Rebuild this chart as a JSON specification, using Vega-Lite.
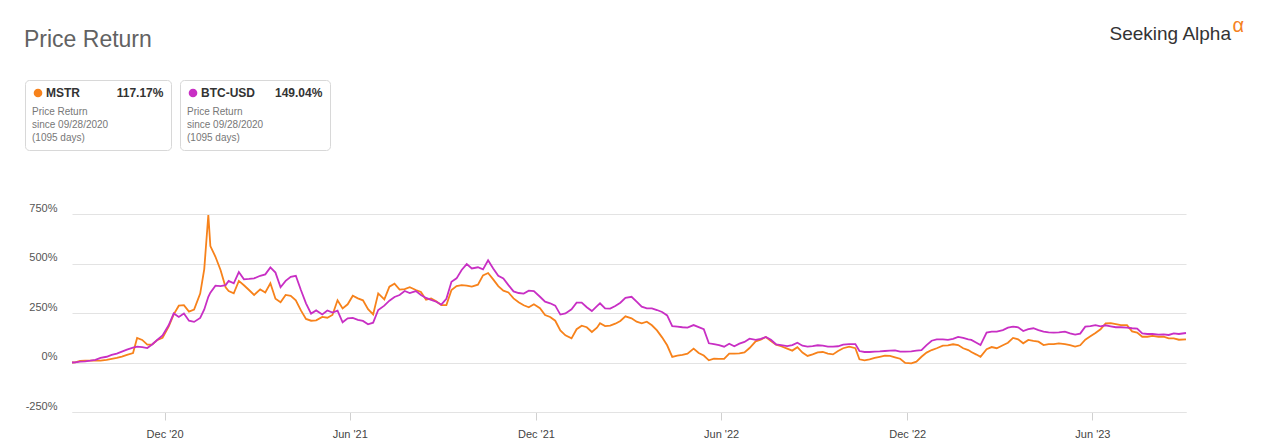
{
  "$schema": "https://vega.github.io/schema/vega-lite/v6.json",
  "autosize": {"type": "none"},
  "padding": {"left": 72, "top": 214, "right": 94, "bottom": 31},
  "width": 1114,
  "height": 198,
  "background": "#ffffff",
  "title": {
    "text": "Price Return",
    "anchor": "start",
    "frame": "group",
    "fontSize": 23,
    "fontWeight": "normal",
    "color": "#626262",
    "font": "Liberation Sans",
    "offset": 0,
    "dx": -48,
    "dy": 37
  },
  "config": {
    "view": {"stroke": null},
    "font": "Liberation Sans",
    "legend": {
      "fillColor": "#ffffff",
      "strokeColor": "#d8d8d8",
      "cornerRadius": 4,
      "padding": 7,
      "labelFont": "Liberation Sans",
      "labelFontSize": 12,
      "labelFontWeight": "bold",
      "labelColor": "#333333",
      "labelOffset": 2,
      "labelLimit": 300,
      "titleFont": "Liberation Sans",
      "titleFontSize": 10,
      "titleFontWeight": "normal",
      "titleColor": "#777777",
      "titleLineHeight": 13,
      "titlePadding": 8,
      "titleOrient": "bottom",
      "titleAnchor": "start",
      "titleAlign": "left",
      "titleLimit": 300,
      "symbolType": "circle",
      "symbolSize": 75,
      "symbolStrokeWidth": 0
    }
  },
  "data": {
    "values": [
      {"date": "2020-09-28", "MSTR": 0, "BTC": 0},
      {"date": "2020-10-01", "MSTR": 1, "BTC": 1},
      {"date": "2020-10-06", "MSTR": 8, "BTC": 4},
      {"date": "2020-10-11", "MSTR": 9, "BTC": 6},
      {"date": "2020-10-16", "MSTR": 9, "BTC": 9},
      {"date": "2020-10-21", "MSTR": 9, "BTC": 13},
      {"date": "2020-10-26", "MSTR": 9, "BTC": 23},
      {"date": "2020-11-01", "MSTR": 13, "BTC": 29},
      {"date": "2020-11-06", "MSTR": 18, "BTC": 38},
      {"date": "2020-11-11", "MSTR": 23, "BTC": 45},
      {"date": "2020-11-16", "MSTR": 30, "BTC": 55},
      {"date": "2020-11-21", "MSTR": 38, "BTC": 65},
      {"date": "2020-11-27", "MSTR": 48, "BTC": 75},
      {"date": "2020-12-01", "MSTR": 124, "BTC": 80},
      {"date": "2020-12-06", "MSTR": 114, "BTC": 78},
      {"date": "2020-12-11", "MSTR": 90, "BTC": 73},
      {"date": "2020-12-16", "MSTR": 92, "BTC": 92},
      {"date": "2020-12-21", "MSTR": 114, "BTC": 115},
      {"date": "2020-12-26", "MSTR": 125, "BTC": 137},
      {"date": "2021-01-01", "MSTR": 181, "BTC": 188},
      {"date": "2021-01-06", "MSTR": 243, "BTC": 248},
      {"date": "2021-01-11", "MSTR": 287, "BTC": 230},
      {"date": "2021-01-16", "MSTR": 290, "BTC": 247},
      {"date": "2021-01-21", "MSTR": 257, "BTC": 211},
      {"date": "2021-01-26", "MSTR": 267, "BTC": 205},
      {"date": "2021-02-01", "MSTR": 348, "BTC": 225},
      {"date": "2021-02-05", "MSTR": 472, "BTC": 268},
      {"date": "2021-02-09", "MSTR": 745, "BTC": 332},
      {"date": "2021-02-11", "MSTR": 588, "BTC": 353},
      {"date": "2021-02-16", "MSTR": 534, "BTC": 388},
      {"date": "2021-02-21", "MSTR": 467, "BTC": 386},
      {"date": "2021-02-26", "MSTR": 380, "BTC": 391},
      {"date": "2021-03-01", "MSTR": 361, "BTC": 412},
      {"date": "2021-03-06", "MSTR": 349, "BTC": 400},
      {"date": "2021-03-11", "MSTR": 412, "BTC": 457},
      {"date": "2021-03-16", "MSTR": 390, "BTC": 420},
      {"date": "2021-03-21", "MSTR": 366, "BTC": 422},
      {"date": "2021-03-26", "MSTR": 341, "BTC": 425},
      {"date": "2021-04-01", "MSTR": 369, "BTC": 438},
      {"date": "2021-04-06", "MSTR": 354, "BTC": 445},
      {"date": "2021-04-11", "MSTR": 400, "BTC": 480},
      {"date": "2021-04-16", "MSTR": 322, "BTC": 454},
      {"date": "2021-04-21", "MSTR": 304, "BTC": 380},
      {"date": "2021-04-26", "MSTR": 341, "BTC": 412},
      {"date": "2021-05-01", "MSTR": 337, "BTC": 433},
      {"date": "2021-05-06", "MSTR": 314, "BTC": 438},
      {"date": "2021-05-11", "MSTR": 263, "BTC": 366},
      {"date": "2021-05-16", "MSTR": 220, "BTC": 299},
      {"date": "2021-05-21", "MSTR": 211, "BTC": 247},
      {"date": "2021-05-26", "MSTR": 213, "BTC": 263},
      {"date": "2021-06-01", "MSTR": 230, "BTC": 243},
      {"date": "2021-06-06", "MSTR": 226, "BTC": 263},
      {"date": "2021-06-11", "MSTR": 240, "BTC": 252},
      {"date": "2021-06-16", "MSTR": 314, "BTC": 262},
      {"date": "2021-06-21", "MSTR": 273, "BTC": 203},
      {"date": "2021-06-26", "MSTR": 294, "BTC": 223},
      {"date": "2021-07-01", "MSTR": 337, "BTC": 225},
      {"date": "2021-07-06", "MSTR": 324, "BTC": 215},
      {"date": "2021-07-11", "MSTR": 314, "BTC": 210},
      {"date": "2021-07-16", "MSTR": 269, "BTC": 193},
      {"date": "2021-07-21", "MSTR": 243, "BTC": 201},
      {"date": "2021-07-26", "MSTR": 349, "BTC": 265},
      {"date": "2021-08-01", "MSTR": 319, "BTC": 287},
      {"date": "2021-08-06", "MSTR": 383, "BTC": 312},
      {"date": "2021-08-11", "MSTR": 398, "BTC": 331},
      {"date": "2021-08-16", "MSTR": 368, "BTC": 341},
      {"date": "2021-08-21", "MSTR": 371, "BTC": 361},
      {"date": "2021-08-26", "MSTR": 380, "BTC": 351},
      {"date": "2021-09-01", "MSTR": 366, "BTC": 361},
      {"date": "2021-09-06", "MSTR": 356, "BTC": 341},
      {"date": "2021-09-11", "MSTR": 317, "BTC": 326},
      {"date": "2021-09-16", "MSTR": 324, "BTC": 316},
      {"date": "2021-09-21", "MSTR": 309, "BTC": 307},
      {"date": "2021-09-26", "MSTR": 290, "BTC": 292},
      {"date": "2021-10-01", "MSTR": 290, "BTC": 322},
      {"date": "2021-10-06", "MSTR": 366, "BTC": 408},
      {"date": "2021-10-11", "MSTR": 386, "BTC": 425},
      {"date": "2021-10-16", "MSTR": 391, "BTC": 467},
      {"date": "2021-10-21", "MSTR": 388, "BTC": 497},
      {"date": "2021-10-26", "MSTR": 383, "BTC": 475},
      {"date": "2021-11-01", "MSTR": 393, "BTC": 481},
      {"date": "2021-11-06", "MSTR": 440, "BTC": 470},
      {"date": "2021-11-11", "MSTR": 452, "BTC": 516},
      {"date": "2021-11-16", "MSTR": 420, "BTC": 475},
      {"date": "2021-11-21", "MSTR": 386, "BTC": 438},
      {"date": "2021-11-26", "MSTR": 363, "BTC": 425},
      {"date": "2021-12-01", "MSTR": 354, "BTC": 391},
      {"date": "2021-12-06", "MSTR": 324, "BTC": 359},
      {"date": "2021-12-11", "MSTR": 304, "BTC": 351},
      {"date": "2021-12-16", "MSTR": 289, "BTC": 348},
      {"date": "2021-12-21", "MSTR": 279, "BTC": 363},
      {"date": "2021-12-26", "MSTR": 294, "BTC": 361},
      {"date": "2022-01-01", "MSTR": 274, "BTC": 332},
      {"date": "2022-01-06", "MSTR": 240, "BTC": 307},
      {"date": "2022-01-11", "MSTR": 230, "BTC": 299},
      {"date": "2022-01-16", "MSTR": 211, "BTC": 287},
      {"date": "2022-01-21", "MSTR": 162, "BTC": 242},
      {"date": "2022-01-26", "MSTR": 137, "BTC": 248},
      {"date": "2022-02-01", "MSTR": 122, "BTC": 269},
      {"date": "2022-02-06", "MSTR": 168, "BTC": 302},
      {"date": "2022-02-11", "MSTR": 186, "BTC": 302},
      {"date": "2022-02-16", "MSTR": 178, "BTC": 279},
      {"date": "2022-02-21", "MSTR": 154, "BTC": 260},
      {"date": "2022-02-26", "MSTR": 176, "BTC": 285},
      {"date": "2022-03-01", "MSTR": 198, "BTC": 299},
      {"date": "2022-03-06", "MSTR": 184, "BTC": 273},
      {"date": "2022-03-11", "MSTR": 186, "BTC": 272},
      {"date": "2022-03-16", "MSTR": 196, "BTC": 285},
      {"date": "2022-03-21", "MSTR": 210, "BTC": 302},
      {"date": "2022-03-26", "MSTR": 233, "BTC": 326},
      {"date": "2022-04-01", "MSTR": 223, "BTC": 332},
      {"date": "2022-04-06", "MSTR": 206, "BTC": 307},
      {"date": "2022-04-11", "MSTR": 198, "BTC": 282},
      {"date": "2022-04-16", "MSTR": 206, "BTC": 273},
      {"date": "2022-04-21", "MSTR": 188, "BTC": 273},
      {"date": "2022-04-26", "MSTR": 162, "BTC": 265},
      {"date": "2022-05-01", "MSTR": 127, "BTC": 255},
      {"date": "2022-05-06", "MSTR": 87, "BTC": 238},
      {"date": "2022-05-11", "MSTR": 28, "BTC": 184},
      {"date": "2022-05-16", "MSTR": 35, "BTC": 181},
      {"date": "2022-05-21", "MSTR": 38, "BTC": 178},
      {"date": "2022-05-26", "MSTR": 45, "BTC": 176},
      {"date": "2022-06-01", "MSTR": 70, "BTC": 189},
      {"date": "2022-06-06", "MSTR": 48, "BTC": 179},
      {"date": "2022-06-11", "MSTR": 35, "BTC": 168},
      {"date": "2022-06-16", "MSTR": 11, "BTC": 97},
      {"date": "2022-06-21", "MSTR": 19, "BTC": 93},
      {"date": "2022-06-26", "MSTR": 18, "BTC": 88},
      {"date": "2022-07-01", "MSTR": 18, "BTC": 80},
      {"date": "2022-07-06", "MSTR": 45, "BTC": 95},
      {"date": "2022-07-11", "MSTR": 45, "BTC": 82},
      {"date": "2022-07-16", "MSTR": 46, "BTC": 95},
      {"date": "2022-07-21", "MSTR": 51, "BTC": 104},
      {"date": "2022-07-26", "MSTR": 73, "BTC": 120},
      {"date": "2022-08-01", "MSTR": 107, "BTC": 114},
      {"date": "2022-08-06", "MSTR": 115, "BTC": 119},
      {"date": "2022-08-11", "MSTR": 129, "BTC": 129},
      {"date": "2022-08-16", "MSTR": 109, "BTC": 115},
      {"date": "2022-08-21", "MSTR": 90, "BTC": 92},
      {"date": "2022-08-26", "MSTR": 82, "BTC": 88},
      {"date": "2022-09-01", "MSTR": 70, "BTC": 83},
      {"date": "2022-09-06", "MSTR": 60, "BTC": 88},
      {"date": "2022-09-11", "MSTR": 77, "BTC": 100},
      {"date": "2022-09-16", "MSTR": 50, "BTC": 85},
      {"date": "2022-09-21", "MSTR": 33, "BTC": 80},
      {"date": "2022-09-26", "MSTR": 41, "BTC": 83},
      {"date": "2022-10-01", "MSTR": 51, "BTC": 87},
      {"date": "2022-10-06", "MSTR": 53, "BTC": 85},
      {"date": "2022-10-11", "MSTR": 45, "BTC": 80},
      {"date": "2022-10-16", "MSTR": 41, "BTC": 80},
      {"date": "2022-10-21", "MSTR": 58, "BTC": 82},
      {"date": "2022-10-26", "MSTR": 72, "BTC": 90},
      {"date": "2022-11-01", "MSTR": 80, "BTC": 93},
      {"date": "2022-11-07", "MSTR": 72, "BTC": 93},
      {"date": "2022-11-11", "MSTR": 16, "BTC": 58},
      {"date": "2022-11-16", "MSTR": 11, "BTC": 53},
      {"date": "2022-11-21", "MSTR": 16, "BTC": 53},
      {"date": "2022-11-26", "MSTR": 23, "BTC": 55},
      {"date": "2022-12-01", "MSTR": 29, "BTC": 56},
      {"date": "2022-12-06", "MSTR": 35, "BTC": 58},
      {"date": "2022-12-11", "MSTR": 33, "BTC": 60},
      {"date": "2022-12-16", "MSTR": 26, "BTC": 61},
      {"date": "2022-12-21", "MSTR": 19, "BTC": 55},
      {"date": "2022-12-26", "MSTR": -2, "BTC": 55},
      {"date": "2023-01-01", "MSTR": -4, "BTC": 56},
      {"date": "2023-01-06", "MSTR": 4, "BTC": 60},
      {"date": "2023-01-11", "MSTR": 29, "BTC": 63},
      {"date": "2023-01-16", "MSTR": 50, "BTC": 88},
      {"date": "2023-01-21", "MSTR": 63, "BTC": 110},
      {"date": "2023-01-26", "MSTR": 72, "BTC": 117},
      {"date": "2023-02-01", "MSTR": 85, "BTC": 117},
      {"date": "2023-02-06", "MSTR": 87, "BTC": 114},
      {"date": "2023-02-11", "MSTR": 92, "BTC": 119},
      {"date": "2023-02-16", "MSTR": 88, "BTC": 129},
      {"date": "2023-02-21", "MSTR": 72, "BTC": 124},
      {"date": "2023-02-26", "MSTR": 63, "BTC": 117},
      {"date": "2023-03-01", "MSTR": 53, "BTC": 114},
      {"date": "2023-03-06", "MSTR": 40, "BTC": 100},
      {"date": "2023-03-10", "MSTR": 29, "BTC": 88},
      {"date": "2023-03-16", "MSTR": 67, "BTC": 151},
      {"date": "2023-03-21", "MSTR": 78, "BTC": 156},
      {"date": "2023-03-26", "MSTR": 72, "BTC": 156},
      {"date": "2023-04-01", "MSTR": 87, "BTC": 164},
      {"date": "2023-04-06", "MSTR": 100, "BTC": 176},
      {"date": "2023-04-11", "MSTR": 124, "BTC": 181},
      {"date": "2023-04-16", "MSTR": 117, "BTC": 178},
      {"date": "2023-04-21", "MSTR": 97, "BTC": 159},
      {"date": "2023-04-26", "MSTR": 114, "BTC": 168},
      {"date": "2023-05-01", "MSTR": 109, "BTC": 173},
      {"date": "2023-05-06", "MSTR": 105, "BTC": 164},
      {"date": "2023-05-11", "MSTR": 88, "BTC": 156},
      {"date": "2023-05-16", "MSTR": 93, "BTC": 152},
      {"date": "2023-05-21", "MSTR": 93, "BTC": 151},
      {"date": "2023-05-26", "MSTR": 97, "BTC": 152},
      {"date": "2023-06-01", "MSTR": 93, "BTC": 156},
      {"date": "2023-06-06", "MSTR": 88, "BTC": 147},
      {"date": "2023-06-11", "MSTR": 80, "BTC": 141},
      {"date": "2023-06-16", "MSTR": 87, "BTC": 146},
      {"date": "2023-06-21", "MSTR": 115, "BTC": 181},
      {"date": "2023-06-26", "MSTR": 132, "BTC": 184},
      {"date": "2023-07-01", "MSTR": 149, "BTC": 189},
      {"date": "2023-07-06", "MSTR": 168, "BTC": 183},
      {"date": "2023-07-11", "MSTR": 198, "BTC": 188},
      {"date": "2023-07-16", "MSTR": 199, "BTC": 183},
      {"date": "2023-07-21", "MSTR": 194, "BTC": 178},
      {"date": "2023-07-26", "MSTR": 189, "BTC": 178},
      {"date": "2023-08-01", "MSTR": 189, "BTC": 176},
      {"date": "2023-08-06", "MSTR": 157, "BTC": 173},
      {"date": "2023-08-11", "MSTR": 151, "BTC": 171},
      {"date": "2023-08-16", "MSTR": 130, "BTC": 147},
      {"date": "2023-08-21", "MSTR": 130, "BTC": 144},
      {"date": "2023-08-26", "MSTR": 134, "BTC": 144},
      {"date": "2023-09-01", "MSTR": 130, "BTC": 141},
      {"date": "2023-09-06", "MSTR": 130, "BTC": 142},
      {"date": "2023-09-11", "MSTR": 122, "BTC": 139},
      {"date": "2023-09-16", "MSTR": 122, "BTC": 147},
      {"date": "2023-09-21", "MSTR": 115, "BTC": 144},
      {"date": "2023-09-28", "MSTR": 117.17, "BTC": 149.04}
    ]
  },
  "resolve": {
    "scale": {"color": "independent"},
    "axis": {"x": "independent", "y": "independent"}
  },
  "layer": [
    {
      "mark": {"type": "line", "strokeWidth": 1.8},
      "encoding": {
        "x": {
          "field": "date",
          "type": "temporal",
          "scale": {"domain": [{"year": 2020, "month": 9, "date": 28}, {"year": 2023, "month": 9, "date": 28}]},
          "axis": {
            "title": null,
            "values": [
              {"year": 2020, "month": 12, "date": 28},
              {"year": 2021, "month": 6, "date": 28},
              {"year": 2021, "month": 12, "date": 28},
              {"year": 2022, "month": 6, "date": 28},
              {"year": 2022, "month": 12, "date": 28},
              {"year": 2023, "month": 6, "date": 28}
            ],
            "format": "%b '%y",
            "grid": false,
            "domain": true,
            "domainColor": "#e3e3e3",
            "tickColor": "#d0d0d0",
            "tickSize": 8,
            "labelPadding": 8,
            "labelFontSize": 11,
            "labelColor": "#444444",
            "labelFont": "Liberation Sans"
          }
        },
        "y": {
          "field": "MSTR",
          "type": "quantitative",
          "scale": {"domain": [-250, 750], "nice": false},
          "axis": {
            "title": null,
            "values": [-250, 0, 250, 500, 750],
            "labelExpr": "datum.value + '%'",
            "domain": false,
            "ticks": false,
            "grid": true,
            "gridColor": "#e3e3e3",
            "labelPadding": 15,
            "labelOffset": -6,
            "labelFontSize": 11,
            "labelColor": "#555555",
            "labelFont": "Liberation Sans"
          }
        },
        "color": {
          "datum": "MSTR",
          "scale": {"domain": ["MSTR"], "range": ["#f7821b"]},
          "legend": {
            "orient": "none",
            "legendX": -47,
            "legendY": -134,
            "title": ["Price Return", "since 09/28/2020", "(1095 days)"],
            "labelExpr": "'MSTR\u2007\u2007\u2007\u2007\u2007\u2008117.17%'",
            "symbolFillColor": "#f7821b",
            "symbolStrokeColor": "#f7821b"
          }
        }
      }
    },
    {
      "mark": {"type": "line", "strokeWidth": 1.8},
      "encoding": {
        "x": {
          "field": "date",
          "type": "temporal",
          "axis": {
            "orient": "top",
            "title": "Seeking Alpha",
            "labels": false,
            "ticks": false,
            "domain": false,
            "grid": false,
            "titleX": 1037,
            "titleY": -175,
            "titleAlign": "left",
            "titleAnchor": null,
            "titleBaseline": "alphabetic",
            "titleFont": "Liberation Sans",
            "titleFontSize": 19,
            "titleFontWeight": "normal",
            "titleColor": "#333333"
          }
        },
        "y": {
          "field": "BTC",
          "type": "quantitative",
          "axis": {
            "orient": "right",
            "title": "α",
            "labels": false,
            "ticks": false,
            "domain": false,
            "grid": false,
            "titleAngle": 0,
            "titleX": 46,
            "titleY": -183,
            "titleAlign": "left",
            "titleBaseline": "alphabetic",
            "titleFont": "Liberation Sans",
            "titleFontSize": 20,
            "titleFontWeight": "normal",
            "titleColor": "#f5821f"
          }
        },
        "color": {
          "datum": "BTC-USD",
          "scale": {"domain": ["BTC-USD"], "range": ["#c82fc4"]},
          "legend": {
            "orient": "none",
            "legendX": 108,
            "legendY": -134,
            "title": ["Price Return", "since 09/28/2020", "(1095 days)"],
            "labelExpr": "'BTC-USD\u2007\u2007\u2007149.04%'",
            "symbolFillColor": "#c82fc4",
            "symbolStrokeColor": "#c82fc4"
          }
        }
      }
    }
  ]
}
